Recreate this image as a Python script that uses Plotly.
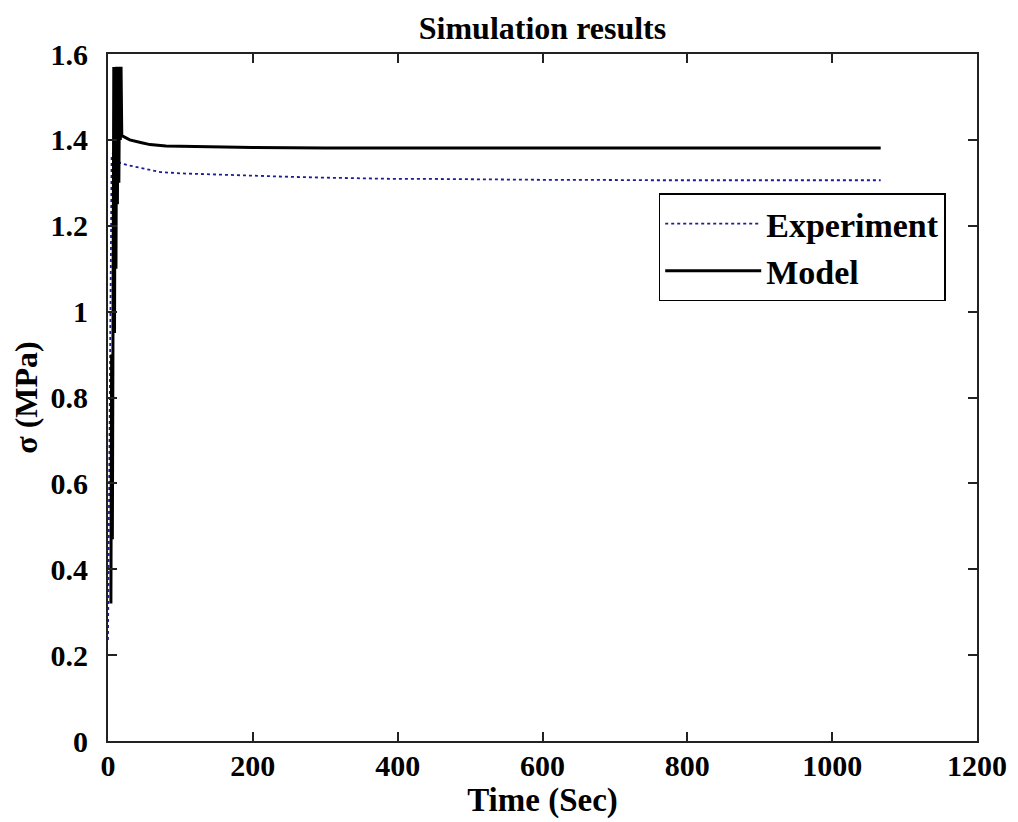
import plotly.graph_objects as go

# Experiment (dotted blue) readings
exp_time = [0, 1, 2, 3, 4, 5, 7, 10, 17, 30, 50, 72, 100, 150, 200, 250, 300, 350, 400,
            450, 500, 550, 600, 650, 700, 750, 800, 850, 900, 950, 1000, 1040, 1067]
exp_stress = [0.235, 0.5, 0.8, 1.05, 1.25, 1.36, 1.37, 1.36, 1.346, 1.34, 1.333, 1.325,
              1.322, 1.319, 1.317, 1.314, 1.312, 1.31, 1.309, 1.309, 1.308, 1.308, 1.307,
              1.307, 1.306, 1.306, 1.306, 1.306, 1.306, 1.306, 1.306, 1.306, 1.306]

# Model (solid black) readings - oscillating loading band then relaxation
model_time = [4, 5, 6, 7, 8, 9, 10, 11, 12, 13, 14, 15, 16, 17, 18, 19, 30, 45, 58, 80,
              127, 200, 300, 400, 500, 600, 700, 800, 900, 1000, 1067]
model_stress = [0.32, 0.9, 0.47, 1.2, 1.57, 0.95, 1.57, 1.1, 1.57, 1.25, 1.57, 1.3, 1.57,
                1.4, 1.57, 1.41, 1.4, 1.394, 1.389, 1.386,
                1.384, 1.382, 1.381, 1.381, 1.38, 1.38, 1.38, 1.381, 1.381, 1.381, 1.381]

x_ticks = [0, 200, 400, 600, 800, 1000, 1200]
y_ticks = [0, 0.2, 0.4, 0.6, 0.8, 1, 1.2, 1.4, 1.6]
y_labels = ["0", "0.2", "0.4", "0.6", "0.8", "1", "1.2", "1.4", "1.6"]

serif = "Liberation Serif"

fig = go.Figure()
fig.add_trace(go.Scatter(x=exp_time, y=exp_stress, mode="lines", name="<b>Experiment</b>",
                         line=dict(color="#1c1c96", width=1.8, dash="dot")))
fig.add_trace(go.Scatter(x=model_time, y=model_stress, mode="lines", name="<b>Model</b>",
                         line=dict(color="black", width=3)))

axis_common = dict(showline=True, linecolor="#222222", linewidth=2, mirror="ticks",
                   ticks="inside", ticklen=9, tickwidth=1.5, tickcolor="#222222",
                   showgrid=False, zeroline=False,
                   tickfont=dict(family=serif, size=30, color="black", weight="bold"))

fig.update_xaxes(range=[0, 1200], tickvals=x_ticks, ticklabelstandoff=-3,
                 title=dict(text="<b>Time (Sec)</b>",
                            font=dict(family=serif, size=33, color="black"), standoff=2),
                 **axis_common)
fig.update_yaxes(range=[0, 1.6], tickvals=y_ticks, ticktext=y_labels, ticklabelstandoff=12,
                 title=dict(text="<b>σ (MPa)</b>",
                            font=dict(family=serif, size=32, color="black"), standoff=3),
                 **axis_common)

# page body adds an 8px offset, so margins are shifted to compensate
fig.update_layout(
    width=1018, height=822,
    paper_bgcolor="white", plot_bgcolor="white",
    margin=dict(l=100, r=49, t=46, b=89),
    title=dict(text="<b>Simulation results</b>", xref="paper", x=0.5, xanchor="center",
               y=0.9757, yanchor="middle", font=dict(family=serif, size=32, color="black")),
    legend=dict(x=0.964, y=0.797, xanchor="right", yanchor="top", itemwidth=96,
                bgcolor="white", bordercolor="black", borderwidth=1.5,
                font=dict(family=serif, size=34, color="black")),
)

fig.write_html("out.html")
